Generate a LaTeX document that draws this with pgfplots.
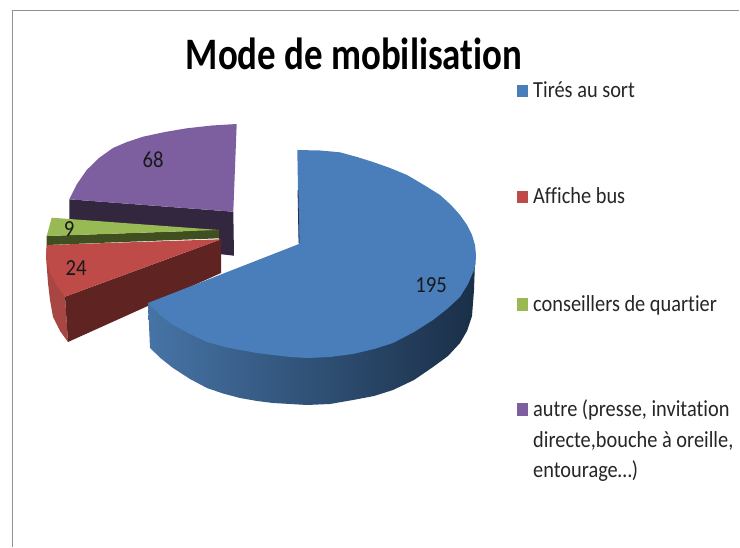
\documentclass[border=0pt]{standalone}
\usepackage{pgfplots}
\pgfplotsset{compat=1.18}
\usepackage{fontspec}
\setmainfont[Ligatures=NoCommon]{Carlito}
\definecolor{bluetop}{HTML}{4A7EBB}
\definecolor{redtop}{HTML}{BE4B48}
\definecolor{redwall}{HTML}{5F2422}
\definecolor{redouter}{HTML}{A84644}
\definecolor{greentop}{HTML}{98B954}
\definecolor{greenside}{HTML}{3F4F1F}
\definecolor{purptop}{HTML}{7D5FA0}
\definecolor{purpside}{HTML}{33263F}
\definecolor{frameg}{HTML}{909090}
\begin{document}
\begin{tikzpicture}
\begin{axis}[
  scale only axis, width=740pt, height=548pt,
  xmin=0, xmax=740, ymin=0, ymax=548, y dir=reverse,
  hide axis, clip=false,
  every axis plot/.append style={draw=none, no markers}
]
\path (axis cs:0,0) rectangle (axis cs:740,548);
% frame
\addplot[draw=frameg, line width=1.2pt] coordinates {(12.5,547)(12.5,10.5)(739,10.5)};
% purple
\addplot[fill=purpside] coordinates {(69.3,199.3)(233.3,211.7)(234,255.7)(219,254)(219,232)(69.3,225)};
\addplot[fill=purptop] coordinates {(236.7,124)(233.3,211.7)(69.3,199.3)(77,184)(86.7,170)(99,158)(113,148)(127,142)(143,136.7)(165,132)(186.7,128.3)(212,125.5)};
% red
\addplot[fill=redouter] coordinates {(46.7,245)(46,257)(47,270)(48,283)(50,300)(53,317)(60,331)(68,342)(65,296.7)};
\addplot[fill=redwall] coordinates {(65,296.7)(221,239.3)(221,273)(68,342)};
\addplot[fill=redtop] coordinates {(221,239.3)(46.7,245)(46,257)(50,273)(57,286)(65,296.7)};
% green
\addplot[fill=greenside] coordinates {(46.7,236)(219,230)(219.3,238.3)(46.7,245)};
\addplot[fill=greentop] coordinates {(219,230)(51.7,217.7)(46.7,236)};
% blue
\addplot[shade, left color={rgb,255:red,70;green,116;blue,166}, middle color={rgb,255:red,47;green,82;blue,124}, right color={rgb,255:red,26;green,46;blue,71}] coordinates {(476,255)(475,262)(474,290)(472,316)(467,331)(460,343)(448,356)(433,367)(414,380)(393,390)(374,396)(353,400)(330,404)(307,405)(273,403)(257,401)(240,398)(223,393.5)(207,388)(190,379)(173,368)(161,358.5)(150,348)(148,303)(300,300)};
\addplot[fill=bluetop] coordinates {(297.3,150)(320,150.5)(340,152.3)(357,157)(373,162)(390,168)(407,175)(424,185)(440,195)(451,205)(460,215)(467,225)(472,235)(475,245)(476,255)(475.5,264)(474,270)(468,284)(460,297)(447,309)(433,320)(414,332)(393,343)(374,349)(353,354)(330,357)(307,358)(290,357)(273,355)(257,353)(240,350)(223,346.5)(207,342)(190,334)(173,325)(160,315)(148,303)(299,244)};
\addplot[draw={rgb,255:red,30;green,50;blue,80}, line width=0.8pt] coordinates {(298,190)(299,243)};
% legend swatches
\addplot[fill=bluetop] coordinates {(517,85)(528,85)(528,97)(517,97)};
\addplot[fill=redtop] coordinates {(517,191)(528,191)(528,203)(517,203)};
\addplot[fill=greentop] coordinates {(517,298)(528,298)(528,311)(517,311)};
\addplot[fill=purptop] coordinates {(517,403)(528,403)(528,416)(517,416)};
% texts
\node[font=\bfseries\fontsize{45}{45}\selectfont, text=black, anchor=center, xscale=0.82] at (axis cs:354,54) {Mode de mobilisation};
\def\lab{\fontsize{23}{23}\selectfont}
\tikzset{lg/.style={font=\lab, text=black!85, anchor=base west, inner sep=0pt, xscale=0.885},
         dl/.style={font=\lab, text=black!90, anchor=center, inner sep=0pt, xscale=0.9}}
\node[lg] at (axis cs:533,98) {Tirés au sort};
\node[lg] at (axis cs:533,204) {Affiche bus};
\node[lg] at (axis cs:533,311.5) {conseillers de quartier};
\node[lg] at (axis cs:533,417) {autre (presse,\ invitation};
\node[lg] at (axis cs:533,447) {directe,bouche à oreille,};
\node[lg] at (axis cs:533,477) {entourage…)};
\node[dl] at (axis cs:431,285) {195};
\node[dl] at (axis cs:153,160) {68};
\node[dl] at (axis cs:76,268) {24};
\node[dl] at (axis cs:69,229) {9};
\end{axis}
\end{tikzpicture}
\end{document}
